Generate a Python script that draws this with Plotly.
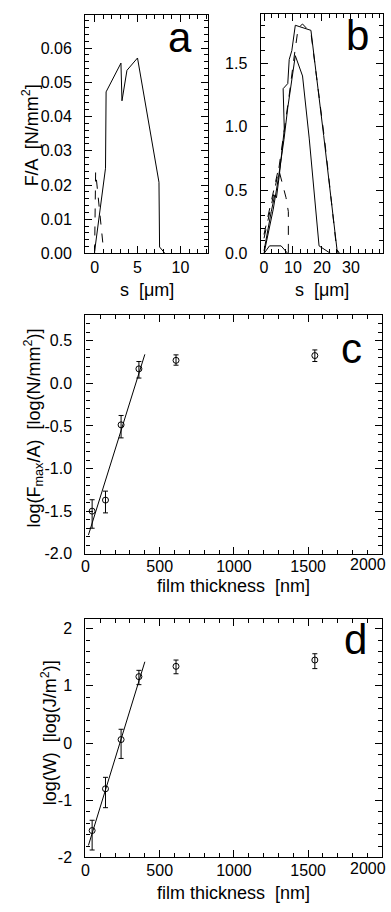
import plotly.graph_objects as go

W, H = 391, 912
FONT = "Liberation Sans, Arial, Helvetica, sans-serif"

# ---------------- data ----------------
# panel a
a_solid_x = [0, 1.27, 1.34, 3.07, 3.19, 3.77, 5.0, 7.5, 7.57, 8.2]
a_solid_y = [0.0006, 0.0249, 0.0472, 0.0556, 0.0446, 0.0535, 0.0571, 0.0208, 0.0019, 0.0]
a_dash_x = [0.0, 0.12, 1.04]
a_dash_y = [0.0, 0.0239, 0.001]

# panel b
b_s1_x = [0, 1.3, 2.5, 3.7, 4.3, 5.3, 7.0, 6.6, 8.2, 8.7, 9.6, 10.8, 13.2, 16.2, 20.6, 25.2, 26.1]
b_s1_y = [0.02, 0.20, 0.33, 0.46, 0.44, 0.62, 0.98, 1.30, 1.34, 1.53, 1.60, 1.80, 1.78, 1.76, 0.93, 0.03, 0.0]
b_s2_x = [0, 1.3, 3.2, 5.0, 6.9, 8.2, 10.8, 13.3, 15.6, 19.0, 23.0]
b_s2_y = [0.0, 0.15, 0.35, 0.60, 0.90, 1.15, 1.56, 1.40, 0.91, 0.06, 0.0]
b_d1_x = [0, 1.3, 3.2, 5.0, 6.9, 8.7, 10.4, 11.8, 13.3, 16.2, 20.9, 25.0, 25.6]
b_d1_y = [0.12, 0.25, 0.45, 0.65, 0.95, 1.25, 1.55, 1.78, 1.81, 1.74, 0.90, 0.05, 0.0]
b_d2_x = [0, 1.9, 5.0, 7.6, 8.4, 8.4]
b_d2_y = [0.15, 0.35, 0.67, 0.44, 0.33, 0.0]
b_s3_x = [0, 1.9, 5.9, 8.2]
b_s3_y = [0.0, 0.06, 0.06, 0.0]

# panels c and d
thickness = [45, 135, 240, 360, 610, 1545]
c_logF = [-1.50, -1.37, -0.487, 0.17, 0.27, 0.326]
c_err_plus = [0.134, 0.105, 0.11, 0.086, 0.064, 0.066]
c_err_minus = [0.20, 0.15, 0.153, 0.108, 0.057, 0.07]
c_fit_x = [20, 400]
c_fit_y = [-1.78, 0.34]

d_logW = [-1.53, -0.80, 0.06, 1.16, 1.34, 1.45]
d_err_plus = [0.18, 0.20, 0.18, 0.11, 0.11, 0.11]
d_err_minus = [0.34, 0.33, 0.33, 0.14, 0.13, 0.15]
d_fit_x = [20, 400]
d_fit_y = [-1.79, 1.42]

a_yticks = [0, 0.01, 0.02, 0.03, 0.04, 0.05, 0.06]
a_xticks = [0, 5, 10]
b_yticks = [0.0, 0.5, 1.0, 1.5]
b_xticks = [0, 10, 20, 30]
c_yticks = [-2.0, -1.5, -1.0, -0.5, 0.0, 0.5]
cd_xticks = [0, 500, 1000, 1500, 2000]
d_yticks = [-2, -1, 0, 1, 2]

# ---------------- figure ----------------
fig = go.Figure()
LW = 1
def line(x, y, xa, ya, dash="solid"):
    fig.add_trace(go.Scatter(x=x, y=y, mode="lines", xaxis=xa, yaxis=ya,
                             line=dict(color="black", width=LW, dash=dash), showlegend=False))

line(a_solid_x, a_solid_y, "x", "y")
line(a_dash_x, a_dash_y, "x", "y", "dash")

line(b_s1_x, b_s1_y, "x2", "y2")
line(b_s2_x, b_s2_y, "x2", "y2")
line(b_s3_x, b_s3_y, "x2", "y2")
line(b_d1_x, b_d1_y, "x2", "y2", "dash")
line(b_d2_x, b_d2_y, "x2", "y2", "dash")

def pts(y, ep, em, xa, ya):
    fig.add_trace(go.Scatter(x=thickness, y=y, mode="markers", xaxis=xa, yaxis=ya,
                             marker=dict(symbol="circle-open", size=6, color="black", line=dict(width=1)),
                             error_y=dict(type="data", array=ep, arrayminus=em, symmetric=False,
                                          color="black", thickness=1, width=2.5),
                             showlegend=False))

pts(c_logF, c_err_plus, c_err_minus, "x3", "y3")
line(c_fit_x, c_fit_y, "x3", "y3")
pts(d_logW, d_err_plus, d_err_minus, "x4", "y4")
line(d_fit_x, d_fit_y, "x4", "y4")

def px(v): return v / W
def py(v): return 1 - v / H

def axis(domain, rng, tickvals, ticktext, minor, anchor, standoff):
    return dict(domain=domain, range=rng, tickvals=tickvals, ticktext=ticktext,
                ticks="inside", ticklen=7, tickwidth=1, tickcolor="black",
                showline=True, linecolor="black", linewidth=1.3, mirror="ticks",
                showgrid=False, zeroline=False, anchor=anchor,
                tickfont=dict(family=FONT, size=16, color="black"),
                minor=dict(ticks="inside", ticklen=4, tickwidth=1, tickcolor="black", dtick=minor, showgrid=False),
                ticklabelstandoff=standoff, fixedrange=True)

def fmt(vals, f):
    return [(f.format(v)).replace("\u2212", "-") for v in vals]

# last label of the thickness axis is placed separately (it would spill past the page edge)
cd_xtext = fmt(cd_xticks, "{:d}")
cd_last = cd_xtext[-1]
cd_xtext = cd_xtext[:-1] + [""]

fig.update_layout(
    width=W, height=H, margin=dict(l=0, r=0, t=0, b=0),
    paper_bgcolor="white", plot_bgcolor="white",
    font=dict(family=FONT, color="black"),
    xaxis=axis([px(82), px(206)], [-1.1, 13.2], a_xticks, fmt(a_xticks, "{:d}"), 1, "y", -1),
    yaxis=axis([py(256), py(15)], [0, 0.0697], a_yticks, fmt(a_yticks, "{:.2f}"), 0.002, "x", 9),
    xaxis2=axis([px(259.3), px(382.7)], [-1.16, 41], b_xticks, fmt(b_xticks, "{:d}"), 2.5, "y2", -1),
    yaxis2=axis([py(256), py(14)], [0, 1.89], b_yticks, fmt(b_yticks, "{:.1f}"), 0.1, "x2", 9),
    xaxis3=axis([px(82.3), px(382.3)], [0, 2000], cd_xticks, cd_xtext, 100, "y3", -2),
    yaxis3=axis([py(559.3), py(318.3)], [-2.0, 0.8], c_yticks, fmt(c_yticks, "{:.1f}"), 0.1, "x3", 9),
    xaxis4=axis([px(82.3), px(382.3)], [0, 2000], cd_xticks, cd_xtext, 100, "y4", -2),
    yaxis4=axis([py(866), py(625)], [-2, 2.17], d_yticks, fmt(d_yticks, "{:d}"), 0.2, "x4", 9),
)

ann = []
def text(t, x, y, angle=0, size=18):
    ann.append(dict(text=t, x=px(x), y=py(y), xref="paper", yref="paper", showarrow=False,
                    textangle=angle, font=dict(family=FONT, size=size, color="black"),
                    xanchor="center", yanchor="middle"))

text("F/A  [N/mm<sup>2</sup>]", 27, 137, -90)
text("s  [\u03bcm]", 144, 293)
text("s  [\u03bcm]", 321, 293)
text("log(F<sub>max</sub>/A)  [log(N/mm<sup>2</sup>)]", 30, 432, -90)
text("film thickness  [nm]", 232, 592)
text("log(W)  [log(J/m<sup>2</sup>)]", 46, 740, -90)
text("film thickness  [nm]", 232, 902)
text(cd_last, 368, 570, 0, 16)
text(cd_last, 368, 877, 0, 16)
text("a", 178, 38, 0, 42)
text("b", 357, 36, 0, 42)
text("c", 351, 352, 0, 42)
text("d", 355, 646, 0, 42)
fig.update_layout(annotations=ann)

fig.write_html("out.html", config={"displayModeBar": False},
               post_script="document.body.style.margin='0';document.body.style.overflow='hidden';")
